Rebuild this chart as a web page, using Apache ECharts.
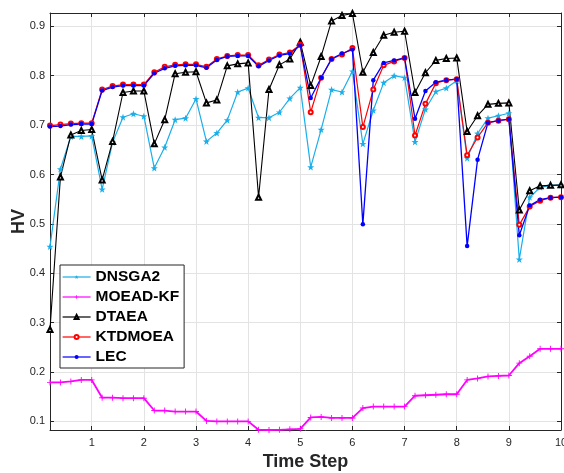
<!DOCTYPE html>
<html>
<head>
<meta charset="utf-8">
<script src="https://cdn.jsdelivr.net/npm/echarts@6/dist/echarts.min.js"></script>
<style>
html,body{margin:0;padding:0;background:#fff;}
#c{width:564px;height:473px;}
</style>
</head>
<body>
<div id="c"></div>
<script>
// Time steps 0.2 .. 10 (step 0.2)
const timeSteps = [0.2,0.4,0.6,0.8,1.0,1.2,1.4,1.6,1.8,2.0,2.2,2.4,2.6,2.8,3.0,3.2,3.4,3.6,3.8,4.0,
  4.2,4.4,4.6,4.8,5.0,5.2,5.4,5.6,5.8,6.0,6.2,6.4,6.6,6.8,7.0,7.2,7.4,7.6,7.8,8.0,
  8.2,8.4,8.6,8.8,9.0,9.2,9.4,9.6,9.8,10.0];

const dnsga2 = [0.454,0.611,0.677,0.677,0.678, 0.570,0.665,0.716,0.723,0.718,
  0.613,0.655,0.711,0.714,0.753, 0.667,0.684,0.710,0.767,0.775,
  0.715,0.715,0.726,0.754,0.776, 0.615,0.691,0.772,0.767,0.809,
  0.662,0.730,0.786,0.800,0.796, 0.666,0.732,0.768,0.775,0.790,
  0.633,0.683,0.714,0.719,0.724, 0.428,0.554,0.574,0.578,0.578];

const moeadkf = [0.179,0.179,0.181,0.184,0.184, 0.148,0.148,0.147,0.147,0.147,
  0.122,0.122,0.120,0.120,0.120, 0.101,0.100,0.100,0.100,0.100,
  0.083,0.0826,0.083,0.084,0.085, 0.108,0.109,0.107,0.107,0.107,
  0.127,0.130,0.130,0.130,0.130, 0.152,0.153,0.154,0.155,0.155,
  0.184,0.187,0.191,0.192,0.193, 0.218,0.232,0.247,0.247,0.247];

const dtaea = [0.286,0.595,0.680,0.689,0.691, 0.589,0.667,0.766,0.769,0.769,
  0.662,0.711,0.804,0.807,0.808, 0.745,0.751,0.820,0.824,0.826,
  0.554,0.772,0.822,0.834,0.868, 0.780,0.839,0.911,0.922,0.926,
  0.807,0.847,0.882,0.888,0.890, 0.766,0.806,0.831,0.835,0.836,
  0.687,0.719,0.742,0.744,0.745, 0.528,0.567,0.577,0.578,0.579];

const ktdmoea = [0.699,0.701,0.703,0.704,0.704, 0.772,0.779,0.782,0.782,0.782,
  0.807,0.818,0.822,0.823,0.823, 0.818,0.834,0.840,0.842,0.842,
  0.821,0.833,0.843,0.847,0.863, 0.726,0.796,0.834,0.843,0.856,
  0.696,0.772,0.821,0.829,0.836, 0.679,0.743,0.785,0.791,0.793,
  0.639,0.675,0.705,0.709,0.712, 0.498,0.535,0.547,0.553,0.554];

const lec = [0.697,0.698,0.701,0.702,0.702, 0.770,0.777,0.780,0.780,0.780,
  0.805,0.815,0.820,0.821,0.821, 0.816,0.832,0.839,0.840,0.840,
  0.819,0.831,0.841,0.845,0.861, 0.755,0.796,0.834,0.845,0.853,
  0.499,0.791,0.826,0.831,0.836, 0.713,0.769,0.787,0.791,0.793,
  0.455,0.630,0.705,0.709,0.712, 0.477,0.537,0.549,0.553,0.554];

const xTicks = [1,2,3,4,5,6,7,8,9,10];
const yTicks = [0.1,0.2,0.3,0.4,0.5,0.6,0.7,0.8,0.9];
const seriesNames = ['DNSGA2','MOEAD-KF','DTAEA','KTDMOEA','LEC'];

const pair = arr => timeSteps.map((t,i)=>[t, arr[i]]);

const STAR = 'path://M0,-10 L2.35,-3.24 L9.51,-3.09 L3.8,1.24 L5.88,8.09 L0,4 L-5.88,8.09 L-3.8,1.24 L-9.51,-3.09 L-2.35,-3.24 Z';
const PLUS = 'path://M-1.5,-10 L1.5,-10 L1.5,-1.5 L10,-1.5 L10,1.5 L1.5,1.5 L1.5,10 L-1.5,10 L-1.5,1.5 L-10,1.5 L-10,-1.5 L-1.5,-1.5 Z';

const axisCol = '#262626';
const gridCol = '#e3e3e3';
const fontFam = 'Liberation Sans, Arial, sans-serif';

const chart = echarts.init(document.getElementById('c'), null, {renderer:'canvas'});
chart.setOption({
  animation:false,
  backgroundColor:'#fff',
  grid:{left:50, right:3, top:13, bottom:43, containLabel:false, outerBoundsMode:'none'},
  legend:{
    data: seriesNames,
    orient:'vertical',
    left:60, top:265,
    padding:[4,5,3,2],
    itemWidth:28, itemHeight:5, itemGap:4,
    itemStyle:{borderWidth:1},
    lineStyle:{width:1.2},
    borderColor:axisCol, borderWidth:1, backgroundColor:'#fff',
    textStyle:{fontFamily:fontFam, fontWeight:'bold', fontSize:15.5, color:'#000', lineHeight:16}
  },
  xAxis:[{
    type:'value', min:0.2, max:10, position:'bottom',
    name:'Time Step', nameLocation:'middle', nameGap:18,
    nameTextStyle:{fontFamily:fontFam, fontWeight:'bold', fontSize:18, color:axisCol},
    axisLine:{show:true, onZero:false, lineStyle:{color:axisCol, width:1}},
    axisTick:{show:true, inside:true, length:4, customValues:xTicks, lineStyle:{color:axisCol}},
    axisLabel:{customValues:xTicks, margin:7, fontFamily:fontFam, fontSize:11, color:axisCol, formatter:v=>String(v)},
    splitLine:{show:true, lineStyle:{color:gridCol, width:1}}
  },{
    type:'value', min:0.2, max:10, position:'top',
    axisLine:{show:true, onZero:false, lineStyle:{color:axisCol, width:1}},
    axisTick:{show:true, inside:true, length:4, customValues:xTicks, lineStyle:{color:axisCol}},
    axisLabel:{show:false},
    splitLine:{show:false}
  }],
  yAxis:[{
    type:'value', min:0.0826, max:0.927, position:'left',
    name:'HV', nameLocation:'middle', nameGap:22, nameRotate:90, nameMoveOverlap:false,
    nameTextStyle:{fontFamily:fontFam, fontWeight:'bold', fontSize:18, color:axisCol},
    axisLine:{show:true, onZero:false, lineStyle:{color:axisCol, width:1}},
    axisTick:{show:true, inside:true, length:4, customValues:yTicks, lineStyle:{color:axisCol}},
    axisLabel:{customValues:yTicks, margin:5, fontFamily:fontFam, fontSize:11, color:axisCol, formatter:v=>v.toFixed(1)},
    splitLine:{show:true, lineStyle:{color:gridCol, width:1}}
  },{
    type:'value', min:0.0826, max:0.927, position:'right',
    axisLine:{show:true, onZero:false, lineStyle:{color:axisCol, width:1}},
    axisTick:{show:true, inside:true, length:4, customValues:yTicks, lineStyle:{color:axisCol}},
    axisLabel:{show:false},
    splitLine:{show:false}
  }],
  series:[
    {name:seriesNames[0], type:'line', data:pair(dnsga2), symbol:STAR, symbolSize:7,
      itemStyle:{color:'#1aaeea'}, lineStyle:{color:'#1aaeea', width:1.2}},
    {name:seriesNames[1], type:'line', data:pair(moeadkf), symbol:PLUS, symbolSize:6,
      itemStyle:{color:'#ff00ff'}, lineStyle:{color:'#ff00ff', width:1.8}},
    {name:seriesNames[2], type:'line', data:pair(dtaea), symbol:'emptyTriangle', symbolSize:5,
      itemStyle:{color:'#000000', borderWidth:0.9}, lineStyle:{color:'#000000', width:1.1}},
    {name:seriesNames[3], type:'line', data:pair(ktdmoea), symbol:'emptyCircle', symbolSize:4,
      itemStyle:{color:'#ff0000', borderWidth:0.8}, lineStyle:{color:'#ff0000', width:1.2}},
    {name:seriesNames[4], type:'line', data:pair(lec), symbol:'circle', symbolSize:4.5,
      itemStyle:{color:'#0000ff'}, lineStyle:{color:'#0000ff', width:1.3}}
  ]
});
</script>
</body>
</html>
